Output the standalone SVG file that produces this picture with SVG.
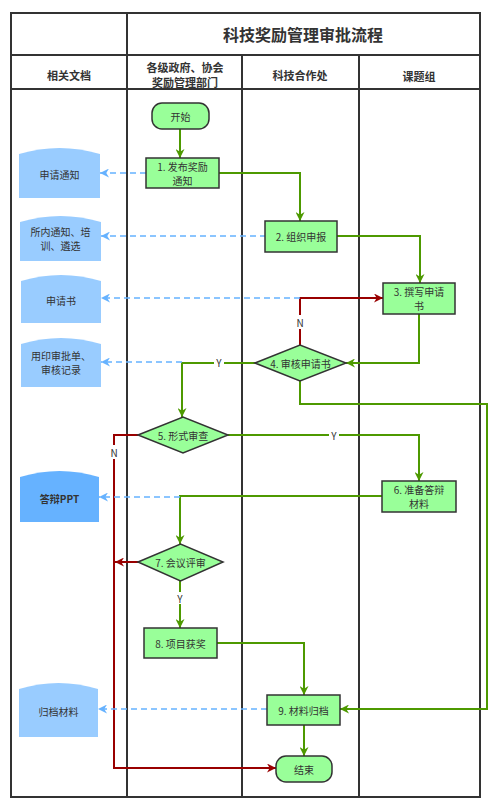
<svg xmlns="http://www.w3.org/2000/svg" width="494" height="810" viewBox="0 0 494 810">
<style>
.grid{fill:none;stroke:#333;stroke-width:2}
.t{font-family:"Noto Sans CJK SC","Liberation Sans",sans-serif;fill:#333;text-anchor:middle;dominant-baseline:central;font-size:10px}
.h{font-size:11px;font-weight:bold}
.title{font-size:16px;font-weight:bold}
.b{font-weight:bold}
.proc{fill:#99FF99;stroke:#333;stroke-width:1.5}
.doc{fill:#99CCFF;stroke:none}
.doc2{fill:#66B2FF;stroke:none}
.g{fill:none;stroke:#4D9900;stroke-width:2;marker-end:url(#ag)}
.r{fill:none;stroke:#990000;stroke-width:2;marker-end:url(#ar)}
.d{fill:none;stroke:#66B2FF;stroke-width:1.5;stroke-dasharray:6 4;marker-end:url(#ab)}
.lbl{fill:#fff;stroke:none}
</style>
<defs>
<marker id="ag" viewBox="0 0 10 10" refX="10" refY="5" markerWidth="11" markerHeight="9" markerUnits="userSpaceOnUse" orient="auto"><path d="M0,0 L10,5 L0,10 L3,5 Z" fill="#4D9900"/></marker>
<marker id="ar" viewBox="0 0 10 10" refX="10" refY="5" markerWidth="11" markerHeight="9" markerUnits="userSpaceOnUse" orient="auto"><path d="M0,0 L10,5 L0,10 L3,5 Z" fill="#990000"/></marker>
<marker id="ab" viewBox="0 0 10 10" refX="10" refY="5" markerWidth="11" markerHeight="9" markerUnits="userSpaceOnUse" orient="auto"><path d="M0,0 L10,5 L0,10 L3,5 Z" fill="#66B2FF"/></marker>
</defs>
<rect width="494" height="810" fill="#fff"/>
<g id="table">
<rect class="grid" x="11" y="13" width="469" height="784"/>
<line class="grid" x1="11" y1="55" x2="480" y2="55"/>
<line class="grid" x1="11" y1="89" x2="480" y2="89"/>
<line class="grid" x1="127" y1="13" x2="127" y2="797"/>
<line class="grid" x1="242" y1="55" x2="242" y2="797"/>
<line class="grid" x1="359" y1="55" x2="359" y2="797"/>
<text class="t title" x="303" y="34">科技奖励管理审批流程</text>
<text class="t h" x="69" y="75">相关文档</text>
<text class="t h" x="185" y="67">各级政府、协会</text>
<text class="t h" x="185" y="82">奖励管理部门</text>
<text class="t h" x="300" y="75">科技合作处</text>
<text class="t h" x="419" y="76">课题组</text>
</g>
<g id="connectors">
<path class="g" d="M180,129 L180,158"/>
<path class="g" d="M219,173 L300,173 L300,221"/>
<path class="g" d="M337,236 L420,236 L420,283"/>
<path class="g" d="M419,314 L419,363 L346,363"/>
<path class="r" d="M300,345 L300,298 L383,298"/>
<path class="g" d="M255,363 L182,363 L182,417"/>
<path class="g" d="M300,381 L300,404 L487,404 L487,709 L340,709"/>
<path class="g" d="M228,435 L419,435 L419,481"/>
<path class="r" d="M138,435 L114,435 L114,768 L276,768"/>
<path class="g" d="M382,496 L180,496 L180,544"/>
<path class="r" d="M138,562 L115,562"/>
<path class="g" d="M180,581 L180,628"/>
<path class="g" d="M217,643 L304,643 L304,695"/>
<path class="g" d="M304,725 L304,756"/>
<path class="d" d="M146,173 L100,173"/>
<path class="d" d="M266,236 L101,236"/>
<path class="d" d="M300,298 L101,298"/>
<path class="d" d="M182,362 L101,362"/>
<path class="d" d="M180,497 L99,497"/>
<path class="d" d="M267,709 L98,709"/>
<rect class="lbl" x="295" y="315" width="10" height="14"/>
<text class="t" x="300" y="322">N</text>
<rect class="lbl" x="214" y="356" width="10" height="12"/>
<text class="t" x="219" y="362">Y</text>
<rect class="lbl" x="329" y="428" width="10" height="12"/>
<text class="t" x="334" y="435">Y</text>
<rect class="lbl" x="109" y="445" width="10" height="14"/>
<text class="t" x="114" y="452">N</text>
<rect class="lbl" x="175" y="592" width="10" height="12"/>
<text class="t" x="180" y="598">Y</text>
</g>
<g id="start"><rect class="proc" x="152" y="103" width="57" height="26" rx="10"/><text class="t" x="180.5" y="116">开始</text></g>
<g id="n1"><rect class="proc" x="146" y="158" width="73" height="30"/><text class="t" x="182.5" y="166">1. 发布奖励</text><text class="t" x="182.5" y="180.5">通知</text></g>
<g id="n2"><rect class="proc" x="265" y="221" width="72" height="31"/><text class="t" x="301" y="236">2. 组织申报</text></g>
<g id="n3"><rect class="proc" x="383" y="283" width="72" height="31"/><text class="t" x="419" y="291">3. 撰写申请</text><text class="t" x="419" y="305.5">书</text></g>
<g id="n4"><polygon class="proc" points="255,363 300,345 346,363 300,381"/><text class="t" x="300.5" y="363">4. 审核申请书</text></g>
<g id="n5"><polygon class="proc" points="138,435 183,417 228,435 183,453"/><text class="t" x="183" y="435">5. 形式审查</text></g>
<g id="n6"><rect class="proc" x="382" y="481" width="74" height="31"/><text class="t" x="419" y="489">6. 准备答辩</text><text class="t" x="419" y="503.5">材料</text></g>
<g id="n7"><polygon class="proc" points="138,562 180.5,544 223,562 180.5,581"/><text class="t" x="180.5" y="562">7. 会议评审</text></g>
<g id="n8"><rect class="proc" x="144" y="628" width="73" height="30"/><text class="t" x="180.5" y="643">8. 项目获奖</text></g>
<g id="n9"><rect class="proc" x="267" y="695" width="73" height="30"/><text class="t" x="303.5" y="710">9. 材料归档</text></g>
<g id="end"><rect class="proc" x="276" y="756" width="56" height="26" rx="10"/><text class="t" x="304" y="769">结束</text></g>
<g id="doc1"><path class="doc" d="M19,154 Q59.5,142 100,154 L100,198 L19,198 Z"/><text class="t" x="59.5" y="174">申请通知</text></g>
<g id="doc2"><path class="doc" d="M20,222 Q60.5,210 101,222 L101,261 L20,261 Z"/><text class="t" x="60.5" y="231">所内通知、培</text><text class="t" x="60.5" y="245.5">训、遴选</text></g>
<g id="doc3"><path class="doc" d="M21,281 Q61,269 101,281 L101,323 L21,323 Z"/><text class="t" x="61" y="300">申请书</text></g>
<g id="doc4"><path class="doc" d="M21,344 Q61,332 101,344 L101,387 L21,387 Z"/><text class="t" x="61" y="355">用印审批单、</text><text class="t" x="61" y="369.5">审核记录</text></g>
<g id="doc5"><path class="doc2" d="M20,477 Q59.5,465 99,477 L99,522 L20,522 Z"/><text class="t b" x="59.5" y="498">答辩PPT</text></g>
<g id="doc6"><path class="doc" d="M19,689 Q58.5,677 98,689 L98,737 L19,737 Z"/><text class="t" x="58.5" y="711">归档材料</text></g>
</svg>
